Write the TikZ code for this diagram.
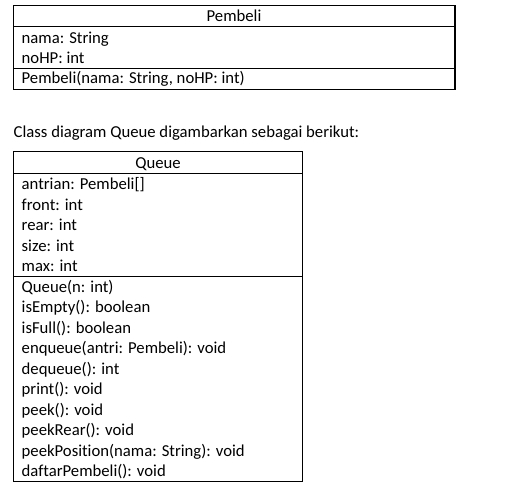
\documentclass[tikz,border=0pt]{standalone}
\usepackage{fontspec}
\setmainfont{Carlito}[Ligatures=NoCommon]
\begin{document}
\begin{tikzpicture}[x=1pt,y=-1pt,
  box/.style={draw=black,line width=1.1pt},
  lbl/.style={anchor=base west,inner sep=0pt,font=\fontsize{16.7}{20}\selectfont},
  ttl/.style={anchor=base,inner sep=0pt,font=\fontsize{16.7}{20}\selectfont}]
\useasboundingbox[fill=white] (0,0) rectangle (523,493);
% Pembeli class
\draw[box] (13.5,5.5) rectangle (455,89.5);
\draw[box] (13.5,26.5) -- (455,26.5);
\draw[box] (13.5,68.5) -- (455,68.5);
\node[ttl] (ph) at (234,21.5) {Pembeli};
\node[lbl] (pa1) at (21.5,43.5) {nama: String};
\node[lbl] (pa2) at (21.5,63.5) {noHP: int};
\node[lbl] (pm1) at (21.5,83.5) {Pembeli(nama: String, noHP: int)};
% caption
\node[lbl] (cap) at (13.5,137.5) {Class diagram Queue digambarkan sebagai berikut:};
% Queue class
\draw[box] (13.5,151.5) rectangle (302.5,481.5);
\draw[box] (13.5,173.5) -- (302.5,173.5);
\draw[box] (13.5,276.5) -- (302.5,276.5);
\node[ttl] (qh) at (158,168) {Queue};
\node[lbl] (qa1) at (21.5,189.5) {antrian: Pembeli[]};
\node[lbl] (qa2) at (21.5,210) {front: int};
\node[lbl] (qa3) at (21.5,230.5) {rear: int};
\node[lbl] (qa4) at (21.5,251) {size: int};
\node[lbl] (qa5) at (21.5,271.5) {max: int};
\node[lbl] (qm1) at (21.5,292) {Queue(n: int)};
\node[lbl] (qm2) at (21.5,312.5) {isEmpty(): boolean};
\node[lbl] (qm3) at (21.5,333) {isFull(): boolean};
\node[lbl] (qm4) at (21.5,353.5) {enqueue(antri: Pembeli): void};
\node[lbl] (qm5) at (21.5,374) {dequeue(): int};
\node[lbl] (qm6) at (21.5,394.5) {print(): void};
\node[lbl] (qm7) at (21.5,415) {peek(): void};
\node[lbl] (qm8) at (21.5,435.5) {peekRear(): void};
\node[lbl] (qm9) at (21.5,456) {peekPosition(nama: String): void};
\node[lbl] (qm10) at (21.5,476.5) {daftarPembeli(): void};
\end{tikzpicture}
\end{document}
